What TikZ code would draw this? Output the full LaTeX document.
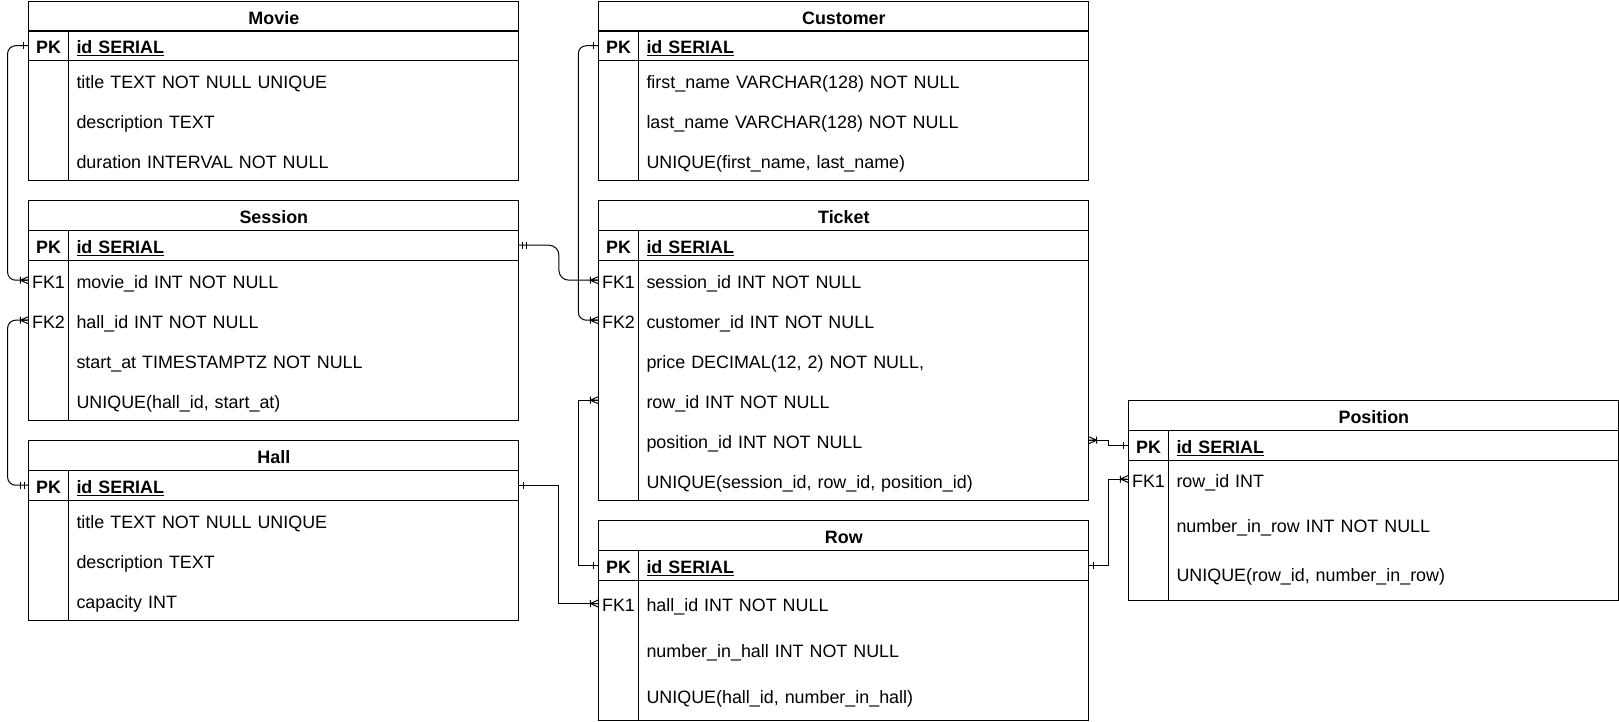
\documentclass[tikz,border=0pt]{standalone}
\usepackage{fontspec}
\setmainfont{Liberation Sans}
\usetikzlibrary{calc}
\newcommand\erfont{\fontsize{17.9}{21}\selectfont}
\tikzset{
  ercrow/.pic={\draw[mk] (-8,0)--(0,-3.5) (-8,0)--(0,0) (-8,0)--(0,3.5) (-8,-3.5)--(-8,3.5);},
  erone/.pic={\draw[mk] (-5,-3.5)--(-5,3.5);},
  ermand/.pic={\draw[mk] (-4,-3.5)--(-4,3.5) (-8,-3.5)--(-8,3.5);},
}
% prefix, L, top, title, body bottom
\newcommand\ertable[5]{%
  \node[thead] (#1T) at (#2,#3) {#4};
  \node[keyb] (#1PKk) at (#2,#3+45) {PK};
  \node[fieldb] (#1PK) at (#2+40,#3+45) {\underline{id SERIAL}};
  \draw[tline] (#2,#3+30) rectangle (#2+490,#3+60);
  \draw[tline] (#2,#3+60) rectangle (#2+490,#5);
  \draw[tline] (#2+40,#3+30) -- (#2+40,#5);
}
% prefix, index, L, y centre, key, field
\newcommand\errow[6]{%
  \node[keyc] (#1K#2) at (#3,#4) {#5};
  \node[fieldc] (#1F#2) at (#3+40,#4) {#6};
}
\begin{document}
\begin{tikzpicture}[x=1pt,y=-1pt,
  every node/.style={inner sep=0pt, font=\erfont, text height=16pt, text depth=0pt},
  tline/.style={draw=black, line width=1.1pt},
  conn/.style={draw=black, line width=1pt},
  mk/.style={draw=black, line width=1pt},
  thead/.style={tline, minimum width=490pt, minimum height=30pt, anchor=north west, font=\erfont\bfseries},
  keyc/.style={minimum width=40pt, minimum height=30pt, anchor=west},
  keyb/.style={keyc, font=\erfont\bfseries},
  fieldc/.style={text width=434pt, inner xsep=8pt, minimum height=30pt, anchor=west, align=left},
  fieldb/.style={fieldc, font=\erfont\bfseries},
]
\useasboundingbox[fill=white] (0,0) rectangle (1619,721);

% Movie
\ertable{movie}{28.3}{0.7}{Movie}{180.7}
\errow{movie}{1}{28.3}{80.7}{}{title TEXT NOT NULL UNIQUE}
\errow{movie}{2}{28.3}{120.7}{}{description TEXT}
\errow{movie}{3}{28.3}{160.7}{}{duration INTERVAL NOT NULL}

% Session
\ertable{ses}{28.3}{200.2}{Session}{420.2}
\errow{ses}{1}{28.3}{280.2}{FK1}{movie\_id INT NOT NULL}
\errow{ses}{2}{28.3}{320.2}{FK2}{hall\_id INT NOT NULL}
\errow{ses}{3}{28.3}{360.2}{}{start\_at TIMESTAMPTZ NOT NULL}
\errow{ses}{4}{28.3}{400.2}{}{UNIQUE(hall\_id, start\_at)}

% Hall
\ertable{hall}{28.3}{440.2}{Hall}{620.2}
\errow{hall}{1}{28.3}{520.2}{}{title TEXT NOT NULL UNIQUE}
\errow{hall}{2}{28.3}{560.2}{}{description TEXT}
\errow{hall}{3}{28.3}{600.2}{}{capacity INT}

% Customer
\ertable{cust}{598.3}{0.7}{Customer}{180.7}
\errow{cust}{1}{598.3}{80.7}{}{first\_name VARCHAR(128) NOT NULL}
\errow{cust}{2}{598.3}{120.7}{}{last\_name VARCHAR(128) NOT NULL}
\errow{cust}{3}{598.3}{160.7}{}{UNIQUE(first\_name, last\_name)}

% Ticket
\ertable{tix}{598.3}{200.2}{Ticket}{500.2}
\errow{tix}{1}{598.3}{280.2}{FK1}{session\_id INT NOT NULL}
\errow{tix}{2}{598.3}{320.2}{FK2}{customer\_id INT NOT NULL}
\errow{tix}{3}{598.3}{360.2}{}{price DECIMAL(12, 2) NOT NULL,}
\errow{tix}{4}{598.3}{400.2}{}{row\_id INT NOT NULL}
\errow{tix}{5}{598.3}{440.2}{}{position\_id INT NOT NULL}
\errow{tix}{6}{598.3}{480.2}{}{UNIQUE(session\_id, row\_id, position\_id)}

% Row
\ertable{row}{598.3}{520.2}{Row}{720.2}
\errow{row}{1}{598.3}{603.5}{FK1}{hall\_id INT NOT NULL}
\errow{row}{2}{598.3}{649.5}{}{number\_in\_hall INT NOT NULL}
\errow{row}{3}{598.3}{695.5}{}{UNIQUE(hall\_id, number\_in\_hall)}

% Position
\ertable{pos}{1128.3}{400.2}{Position}{600.2}
\errow{pos}{1}{1128.3}{479}{FK1}{row\_id INT}
\errow{pos}{2}{1128.3}{524}{}{number\_in\_row INT NOT NULL}
\errow{pos}{3}{1128.3}{573.5}{}{UNIQUE(row\_id, number\_in\_row)}

% connectors
\draw[conn, rounded corners=8pt] (moviePKk.west) -- ++(-20.7,0) |- (sesK1.west);
\pic at (moviePKk.west) {erone};
\pic at (sesK1.west) {ercrow};

\draw[conn, rounded corners=8pt] (sesK2.west) -- ++(-20.7,0) |- (hallPKk.west);
\pic at (sesK2.west) {ercrow};
\pic at (hallPKk.west) {ermand};

\draw[conn, rounded corners=10pt] (sesPK.east) -- ++(40.2,0) |- (tixK1.west);
\pic[xscale=-1] at (sesPK.east) {ermand};
\pic at (tixK1.west) {ercrow};

\draw[conn, rounded corners=8pt] (custPKk.west) -- ++(-20,0) |- (tixK2.west);
\pic at (custPKk.west) {erone};
\pic at (tixK2.west) {ercrow};

\draw[conn] (rowPKk.west) -- ++(-20,0) |- (tixK4.west);
\pic at (rowPKk.west) {erone};
\pic at (tixK4.west) {ercrow};

\draw[conn] (hallPK.east) -- ++(40.2,0) |- (rowK1.west);
\pic[xscale=-1] at (hallPK.east) {erone};
\pic at (rowK1.west) {ercrow};

\draw[conn] (tixF5.east) -- ++(20,0) |- (posPKk.west);
\pic[xscale=-1] at (tixF5.east) {ercrow};
\pic at (posPKk.west) {erone};

\draw[conn] (rowPK.east) -- ++(20,0) |- (posK1.west);
\pic[xscale=-1] at (rowPK.east) {erone};
\pic at (posK1.west) {ercrow};
\end{tikzpicture}
\end{document}
